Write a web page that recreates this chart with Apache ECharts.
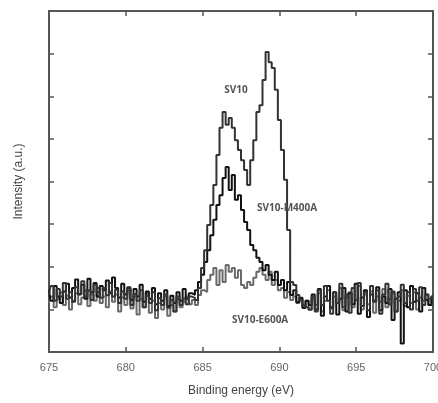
<!DOCTYPE html>
<html><head><meta charset="utf-8">
<script src="https://cdn.jsdelivr.net/npm/echarts@6/dist/echarts.min.js"></script>
<style>html,body{margin:0;padding:0;background:#fff}#c{width:438px;height:403px}</style>
</head><body><div id="c"></div>
<script>
// Binding energy grid (eV), 0.2 eV step from 675 to 700
const eStart = 675, eStep = 0.2;
const xTicks = [675, 680, 685, 690, 695, 700];
const seriesNames = ['SV10', 'SV10-M400A', 'SV10-E600A'];

const sv10 = [
1.35,1.55,1.20,1.48,1.30,1.62,1.25,1.40,1.18,1.52,
1.36,1.66,1.30,1.45,1.22,1.58,1.40,1.27,1.50,1.33,
1.62,1.30,1.46,1.15,1.42,1.25,1.50,1.10,1.36,1.20,
1.45,1.05,1.32,1.15,1.40,0.98,1.26,1.10,1.35,1.04,
1.22,0.95,1.30,1.10,1.25,1.12,1.30,
1.27,1.22,1.50,1.97,2.39,2.98,3.45,3.92,4.62,5.26,5.63,5.33,5.49,5.26,4.97,4.74,4.50,4.27,3.92,4.50,4.97,5.63,5.79,6.38,7.04,6.80,6.66,6.15,5.44,4.74,4.04,2.86,1.64,1.57,1.34,1.22,1.10,1.05,0.99,
1.30,0.95,1.45,1.10,1.55,1.20,0.90,1.40,1.15,1.60,1.05,1.35,0.92,1.50,1.22,1.62,1.08,1.40,0.98,1.55,1.18,1.45,0.90,1.35,1.60,1.12,1.42,0.95,1.30,1.58,1.15,1.40,1.00,1.48,1.20,1.52,1.10,1.35,1.25,1.30];

const m400a = [
1.45,1.20,1.55,1.30,1.15,1.42,1.60,1.28,1.50,1.70,
1.35,1.58,1.25,1.72,1.40,1.62,1.30,1.55,1.45,1.68,
1.38,1.75,1.50,1.28,1.60,1.35,1.52,1.22,1.48,1.30,
1.58,1.18,1.42,1.25,1.50,1.12,1.38,1.20,1.45,1.08,
1.32,1.15,1.40,1.20,1.48,1.25,1.38,
1.34,1.45,1.64,1.81,2.11,2.39,2.74,3.10,3.45,3.68,4.08,4.34,3.80,4.15,3.57,3.68,3.33,3.05,2.86,2.51,2.39,2.21,2.11,1.92,2.04,1.81,1.69,1.88,1.57,1.69,1.45,1.64,1.34,1.45,1.17,1.27,1.03,1.20,1.10,
1.35,1.00,1.48,0.85,1.30,1.55,1.05,1.40,0.88,1.25,1.50,0.95,1.38,1.12,1.60,0.90,1.28,1.45,0.82,1.35,1.20,1.52,0.98,1.30,1.15,1.48,0.75,1.25,1.40,0.20,1.45,1.05,1.55,1.18,1.38,0.95,1.50,1.22,1.10,1.30];

const e600a = [
1.15,1.30,1.05,1.25,1.40,1.10,1.32,1.00,1.20,1.38,
1.12,1.28,1.45,1.08,1.35,1.20,1.50,1.15,1.30,1.05,
1.42,1.18,1.35,0.95,1.28,1.10,1.45,1.02,1.30,0.88,
1.25,1.05,1.38,0.92,1.20,0.80,1.15,1.00,1.30,0.85,
1.10,0.95,1.25,1.05,1.18,1.30,1.12,
1.22,1.10,1.34,1.45,1.41,1.69,1.81,1.97,1.57,1.92,1.64,2.04,1.88,1.97,1.74,1.92,1.57,1.50,1.64,1.57,1.74,1.88,1.97,1.81,1.69,1.88,1.57,1.69,1.45,1.50,1.27,1.41,1.22,1.30,1.15,1.25,1.05,1.20,1.00,
1.25,1.10,1.38,0.95,1.20,1.45,1.02,1.30,1.15,1.50,0.98,1.28,1.40,1.05,1.22,1.55,1.00,1.35,1.12,1.42,0.92,1.30,1.18,1.48,1.05,1.25,1.38,0.95,1.20,1.45,1.08,1.32,1.15,1.40,1.00,1.28,1.20,1.35,1.10,1.25];

// label anchors in data units [eV, intensity]
const labelPos = [[687.17, 6.15], [688.54, 3.38], [686.91, 0.75]];

function pairs(arr){ return arr.map((v,i)=>[+(eStart + eStep*i).toFixed(2), v]); }

const chart = echarts.init(document.getElementById('c'), null, {renderer:'canvas'});
const axisCol = '#555';
const commonX = {
  type:'value', min:675, max:700, interval:5,
  axisLine:{show:true, onZero:false, lineStyle:{color:axisCol, width:2}},
  axisTick:{show:true, inside:true, length:5, lineStyle:{color:axisCol, width:1.5}},
  splitLine:{show:false}
};
const commonY = {
  type:'value', min:0, max:8, interval:1,
  axisLine:{show:true, onZero:false, lineStyle:{color:axisCol, width:2}},
  axisTick:{show:true, inside:true, length:5, lineStyle:{color:axisCol, width:1.5}},
  axisLabel:{show:false}, splitLine:{show:false}
};
const lineCols = ['#333333', '#111111', '#6a6a6a'];
const dataSets = [sv10, m400a, e600a];
chart.setOption({
  animation:false,
  grid:{left:49, right:5, top:11, bottom:51, containLabel:false, outerBoundsMode:'none'},
  xAxis:[
    Object.assign({}, commonX, {position:'bottom',
      axisLabel:{show:true, color:'#666', fontSize:11, margin:10, fontFamily:'Liberation Sans Narrow, Liberation Sans, sans-serif'},
      name:'Binding energy (eV)', nameLocation:'middle', nameGap:33,
      nameTextStyle:{color:'#444', fontSize:12, fontFamily:'Liberation Sans, Arial, sans-serif'}}),
    Object.assign({}, commonX, {position:'top', axisLabel:{show:false}})
  ],
  yAxis:[
    Object.assign({}, commonY, {position:'left', name:'Intensity (a.u.)', nameLocation:'middle', nameGap:24,
      nameTextStyle:{color:'#444', fontSize:12, fontFamily:'Liberation Sans, Arial, sans-serif'}}),
    Object.assign({}, commonY, {position:'right'})
  ],
  series: dataSets.map((d,k)=>({
    name:seriesNames[k], type:'line', step:'middle', showSymbol:false,
    data:pairs(d), lineStyle:{color:lineCols[k], width:2}, z: 3-k
  }))
});
const graphics = labelPos.map((p,k)=>{
  const px = chart.convertToPixel({xAxisIndex:0, yAxisIndex:0}, p);
  return {type:'text', x:px[0], y:px[1], z:10,
    style:{text:seriesNames[k], fill:'#555', font:'bold 10px "Open Sans", "Liberation Sans", sans-serif',
      textAlign: k===0 ? 'center':'left', textVerticalAlign:'middle'}};
});
chart.setOption({graphic:graphics});
</script>
</body></html>
